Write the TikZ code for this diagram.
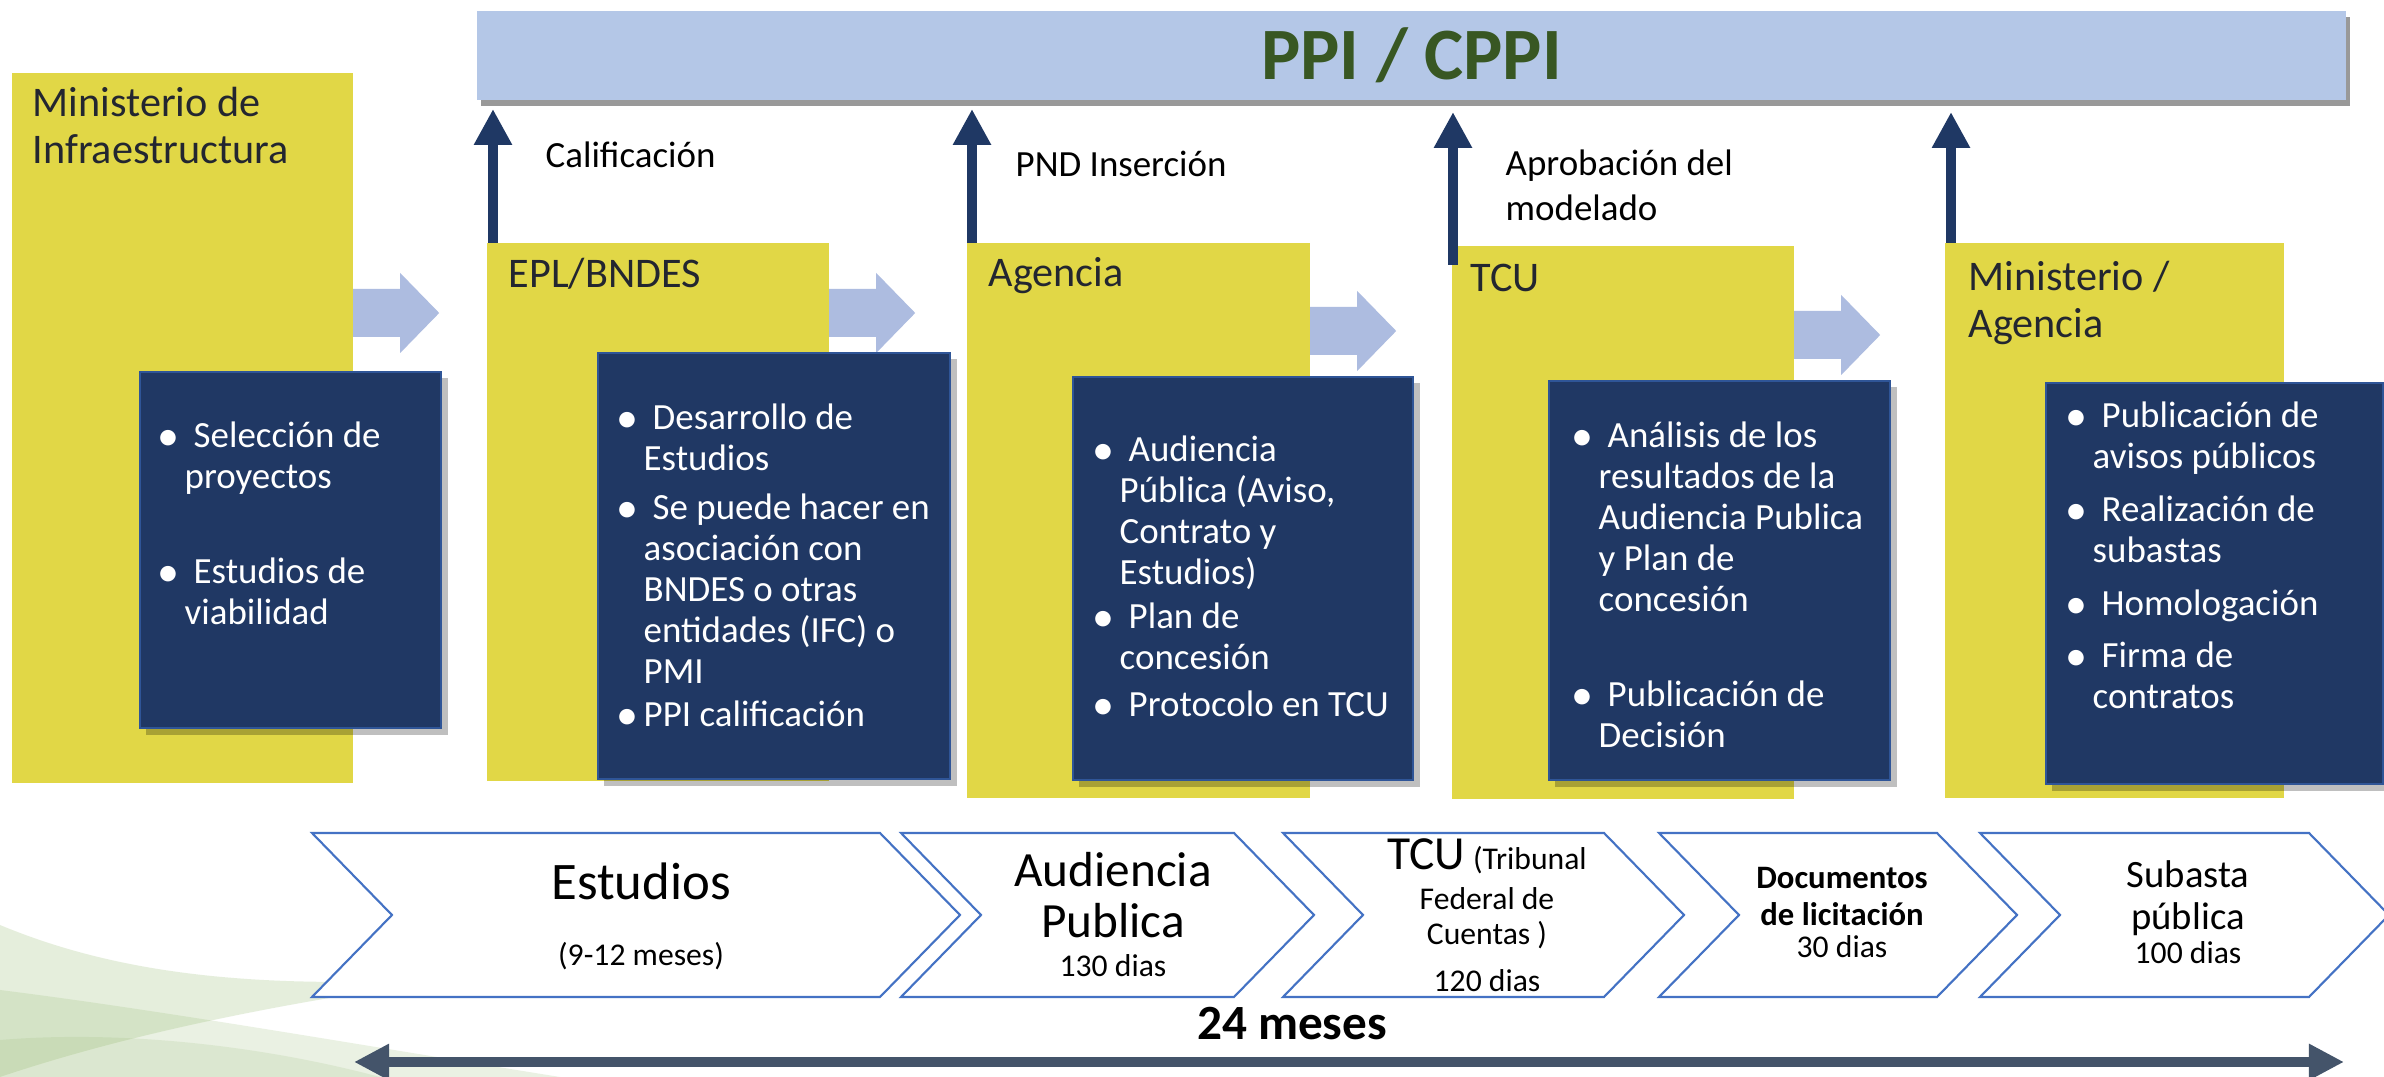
\documentclass[tikz,border=0pt]{standalone}
\usepackage{fontspec}
\setmainfont{Carlito}
\usetikzlibrary{arrows.meta,shadows,calc}
\definecolor{ybox}{RGB}{225,215,70}
\definecolor{navy}{RGB}{32,56,100}
\definecolor{navyedge}{RGB}{47,85,151}
\definecolor{bannerc}{RGB}{180,199,231}
\definecolor{barrowc}{RGB}{173,188,224}
\definecolor{varrowc}{RGB}{31,56,100}
\definecolor{chevc}{RGB}{68,114,196}
\definecolor{slate}{RGB}{68,84,106}
\definecolor{pgreen}{RGB}{56,87,35}
\definecolor{swooshc}{RGB}{140,180,100}
\definecolor{titlec}{RGB}{35,38,48}
\newcommand\Bul{\rlap{\kern0.06cm\makebox[0pt][c]{\raisebox{-0.7pt}{\fontsize{12.5}{12.5}\selectfont•}}}}
\newcommand\Bl[1]{\hbox{\Bul\kern0.31cm #1}}
\newcommand\Ln[1]{\hbox{\kern0.22cm #1}}
\tikzset{
  ybx/.style={fill=ybox, inner sep=0pt, outer sep=0pt, anchor=north west},
  nbx/.style={fill=navy, draw=navyedge, line width=0.7pt, inner sep=0pt, outer sep=0pt, anchor=north west,
    drop shadow={shadow xshift=1.8pt, shadow yshift=-1.8pt, opacity=0.25, fill=black}},
  wtxt/.style={anchor=base west, inner sep=0pt, text=white, font=\fontsize{10.5}{11.6}\selectfont},
  ttxt/.style={anchor=base west, inner sep=0pt, text=titlec, font=\fontsize{12}{13.1}\selectfont},
  ltxt/.style={anchor=base west, inner sep=0pt, text=black, font=\fontsize{10.5}{12.8}\selectfont},
  ctxt/.style={anchor=base, inner sep=0pt, text=black},
  barrow/.style={fill=barrowc},
  varrow/.style={draw=varrowc, line width=3.1pt, -{Triangle[length=10.2pt,width=10.2pt]}},
  chev/.style={draw=chevc, line width=0.6pt, fill=white},
  dblarrow/.style={draw=slate, line width=3.1pt, {Triangle[length=10pt,width=9.7pt]}-{Triangle[length=10pt,width=9.7pt]}}
}
\newcommand\blockarrow[1]{\fill[barrow] (#1) -- ++(0,-24) -- ++(47,0) -- ++(0,-16) -- ++(39,40) -- ++(-39,40) -- ++(0,-16) -- ++(-47,0) -- cycle;}
\newcommand\chevron[2]{\filldraw[chev] (#1,833) -- (#2,833) -- ({#2+80},915) -- (#2,997) -- (#1,997) -- ({#1+80},915) -- cycle;}
\begin{document}
\begin{tikzpicture}[x=0.01cm,y=-0.01cm]
\useasboundingbox (0,0) rectangle (2384,1077);
\fill[white] (0,0) rectangle (2384,1077);
% background swoosh
\fill[swooshc, opacity=0.22] (0,925) .. controls (120,975) and (260,990) .. (460,978) .. controls (300,1000) and (140,1030) .. (0,1077) -- cycle;
\fill[swooshc, opacity=0.18] (0,990) .. controls (160,1010) and (360,1045) .. (560,1077) -- (0,1077) -- cycle;
\fill[swooshc, opacity=0.15] (0,1040) .. controls (120,1030) and (260,1045) .. (380,1077) -- (0,1077) -- cycle;

% banner
\node[fill=bannerc, inner sep=0pt, outer sep=0pt, anchor=north west, minimum width=18.68cm, minimum height=0.89cm,
  drop shadow={shadow xshift=1.2pt, shadow yshift=-1.6pt, opacity=0.4, fill=black}] (banner) at (477,11) {};
\node[font=\fontsize{21}{24}\selectfont\bfseries, text=pgreen, inner sep=0pt] (ppi) at (banner.center) {PPI / CPPI};

% yellow boxes
\node[ybx, minimum width=3.41cm, minimum height=7.10cm] (y1) at (12,73) {};
\node[ybx, minimum width=3.42cm, minimum height=5.38cm] (y2) at (487,243) {};
\node[ybx, minimum width=3.43cm, minimum height=5.55cm] (y3) at (967,243) {};
\node[ybx, minimum width=3.42cm, minimum height=5.53cm] (y4) at (1452,246) {};
\node[ybx, minimum width=3.39cm, minimum height=5.55cm] (y5) at (1945,243) {};

% vertical arrows to banner
\draw[varrow] ($(y2.north west)+(6,0)$) -- ($(y2.north west |- banner.south)+(6,9)$);
\draw[varrow] ($(y3.north west)+(5,0)$) -- ($(y3.north west |- banner.south)+(5,9)$);
\draw[varrow] ($(y4.north west)+(1,19)$) -- ($(y4.north west |- banner.south)+(1,12)$);
\draw[varrow] ($(y5.north west)+(6,0)$) -- ($(y5.north west |- banner.south)+(6,12)$);

% block arrows
\coordinate (h1) at (0,313);
\coordinate (h2) at (0,313);
\coordinate (h3) at (0,331);
\coordinate (h4) at (0,335);
\blockarrow{y1.east |- h1}
\blockarrow{y2.east |- h2}
\blockarrow{y3.east |- h3}
\blockarrow{y4.east |- h4}

% navy boxes
\node[nbx, minimum width=3.01cm, minimum height=3.56cm] (n1) at (140,372) {};
\node[nbx, minimum width=3.52cm, minimum height=4.26cm] (n2) at (598,353) {};
\node[nbx, minimum width=3.40cm, minimum height=4.03cm] (n3) at (1073,377) {};
\node[nbx, minimum width=3.41cm, minimum height=3.99cm] (n4) at (1549,381) {};
\node[nbx, minimum width=3.37cm, minimum height=4.01cm] (n5) at (2046,383) {};

% titles
\node[ttxt] (t1) at (32,117) {\vtop{\hbox{Ministerio de}\hbox{Infraestructura}}};
\node[ttxt] (t2) at (508,288) {EPL/BNDES};
\node[ttxt] (t3) at (988,287) {Agencia};
\node[ttxt] (t4) at (1470,292) {TCU};
\node[ttxt] (t5) at (1968,291) {\vtop{\hbox{Ministerio /}\hbox{Agencia}}};

% labels
\node[ltxt] (l1) at (545,168) {Calificación};
\node[ltxt] (l2) at (1015,177) {PND Inserción};
\node[ltxt] (l3) at (1505,176) {\vtop{\hbox{Aprobación del}\hbox{modelado}}};

% navy texts
\node[wtxt] (n1a) at (162,448) {\vtop{\Bl{Selección de}\Ln{proyectos}}};
\node[wtxt] (n1b) at (162,584) {\vtop{\Bl{Estudios de}\Ln{viabilidad}}};

\node[wtxt] (n2a) at (621,430) {\vtop{\Bl{Desarrollo de}\Ln{Estudios}}};
\node[wtxt] (n2b) at (621,520) {\vtop{\Bl{Se puede hacer en}\Ln{asociación con}\Ln{BNDES o otras}\Ln{entidades (IFC) o}\Ln{PMI}}};
\node[wtxt] (n2c) at (621,727) {\hbox{\Bul\kern0.22cm PPI calificación}};

\node[wtxt] (n3a) at (1097,462) {\vtop{\Bl{Audiencia}\Ln{Pública (Aviso,}\Ln{Contrato y}\Ln{Estudios)}}};
\node[wtxt] (n3b) at (1097,629) {\vtop{\Bl{Plan de}\Ln{concesión}}};
\node[wtxt] (n3c) at (1097,717) {\Bl{Protocolo en TCU}};

\node[wtxt] (n4a) at (1576,448) {\vtop{\Bl{Análisis de los}\Ln{resultados de la}\Ln{Audiencia Publica}\Ln{y Plan de}\Ln{concesión}}};
\node[wtxt] (n4b) at (1576,707) {\vtop{\Bl{Publicación de}\Ln{Decisión}}};

\node[wtxt] (n5a) at (2070,428) {\vtop{\Bl{Publicación de}\Ln{avisos públicos}}};
\node[wtxt] (n5b) at (2070,522) {\vtop{\Bl{Realización de}\Ln{subastas}}};
\node[wtxt] (n5c) at (2070,616) {\Bl{Homologación}};
\node[wtxt] (n5d) at (2070,668) {\vtop{\Bl{Firma de}\Ln{contratos}}};

% chevrons
\chevron{312}{880}
\chevron{901}{1234}
\chevron{1283}{1604}
\chevron{1659}{1937}
\chevron{1980}{2309}

\node[ctxt, font=\fontsize{15}{18}\selectfont] (c1a) at (641,900) {Estudios};
\node[ctxt, font=\fontsize{9}{11}\selectfont] (c1b) at (641,966) {(9-12 meses)};
\node[ctxt, font=\fontsize{14}{16}\selectfont] (c2a) at (1113,887) {Audiencia};
\node[ctxt, font=\fontsize{14}{16}\selectfont] (c2b) at (1113,938) {Publica};
\node[ctxt, font=\fontsize{9}{11}\selectfont] (c2c) at (1113,977) {130 dias};
\node[ctxt, font=\fontsize{13.5}{16}\selectfont] (c3a) at (1487,870) {TCU\,{\fontsize{9}{11}\selectfont(Tribunal}};
\node[ctxt, font=\fontsize{9}{11}\selectfont] (c3b) at (1487,910) {Federal de};
\node[ctxt, font=\fontsize{9}{11}\selectfont] (c3c) at (1487,945) {Cuentas )};
\node[ctxt, font=\fontsize{9}{11}\selectfont] (c3d) at (1487,992) {120 dias};
\node[ctxt, font=\fontsize{9.3}{11}\selectfont\bfseries] (c4a) at (1842,889) {Documentos};
\node[ctxt, font=\fontsize{9.3}{11}\selectfont\bfseries] (c4b) at (1842,926) {de licitación};
\node[ctxt, font=\fontsize{9}{11}\selectfont] (c4c) at (1842,958) {30 dias};
\node[ctxt, font=\fontsize{11}{13}\selectfont] (c5a) at (2188,888) {Subasta};
\node[ctxt, font=\fontsize{11}{13}\selectfont] (c5b) at (2188,930) {pública};
\node[ctxt, font=\fontsize{9}{11}\selectfont] (c5c) at (2188,964) {100 dias};

% bottom timeline
\node[ctxt, font=\fontsize{14}{16}\selectfont\bfseries] (m24) at (1292,1040) {24 meses};
\coordinate (tl) at (354,1062);
\coordinate (tr) at (2344,1062);
\draw[dblarrow] (tl) -- (tr);
\end{tikzpicture}
\end{document}
